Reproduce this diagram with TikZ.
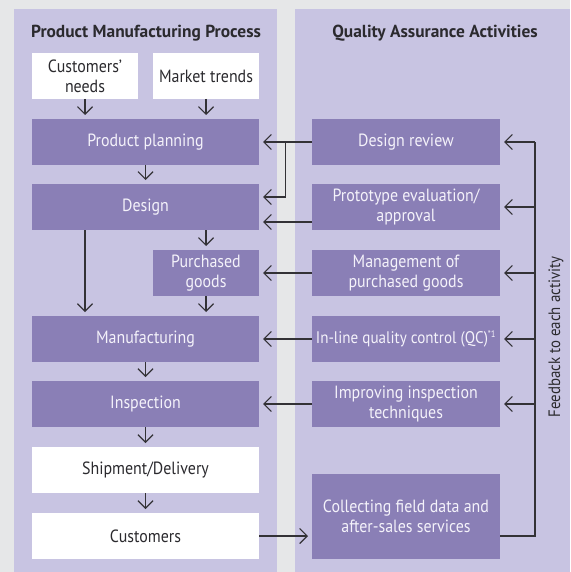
\documentclass[tikz,border=0pt]{standalone}
\usepackage{fontspec}
\setmainfont{PT Sans}[FakeStretch=0.9,BoldFeatures={FakeStretch=1}]
\usetikzlibrary{arrows.meta,calc}
\definecolor{bggrey}{HTML}{E6E7E8}
\definecolor{panel}{HTML}{C8C4E2}
\definecolor{dbox}{HTML}{8A7FB6}
\definecolor{boxtext}{HTML}{F4F2FA}
\definecolor{ink}{HTML}{2B2A2E}
\definecolor{lineink}{HTML}{333236}
\begin{document}
\begin{tikzpicture}[x=1pt,y=-1pt,
  base/.style={rectangle,inner sep=0pt,outer sep=0pt,align=center,font=\fontsize{17.7}{20}\selectfont},
  darkbox/.style={base,fill=dbox,text=boxtext},
  whitebox/.style={base,fill=white,text=ink},
  wide/.style={minimum width=227pt,minimum height=46pt},
  half/.style={minimum width=106pt,minimum height=46pt},
  qa/.style={minimum width=188pt,minimum height=46pt},
  conn/.style={draw=lineink,line width=1.2pt},
  arr/.style={conn,-{Straight Barb[length=7.5pt,width=15pt,line width=1.2pt]},shorten >=4pt},
  title/.style={font=\fontsize{17.4}{19}\selectfont\bfseries,text=ink}
]
\useasboundingbox (0,0) rectangle (570,572);
\fill[bggrey] (0,0) rectangle (570,572);
\fill[panel] (14,9) rectangle (277,572);
\fill[panel] (295,9) rectangle (570,572);

\node[title] (t1) at (146,33) {Product Manufacturing Process};
\node[title] (t2) at (435,33) {Quality Assurance Activities};

% left column
\node[whitebox,half] (cn) at (85,76) {Customers’\\needs};
\node[whitebox,half] (mt) at (206,76) {Market trends};
\node[darkbox,wide] (pp) at (145.5,142) {Product planning};
\node[darkbox,wide] (des) at (145.5,207) {Design};
\node[darkbox,half] (pg) at (206,273) {Purchased\\goods};
\node[darkbox,wide] (mf) at (145.5,339) {Manufacturing};
\node[darkbox,wide] (ins) at (145.5,404) {Inspection};
\node[whitebox,wide] (sd) at (145.5,470) {Shipment/Delivery};
\node[whitebox,wide] (cu) at (145.5,536) {Customers};

% right column
\node[darkbox,qa] (dr) at (406,142) {Design review};
\node[darkbox,qa] (pe) at (406,207) {Prototype evaluation/\\approval};
\node[darkbox,qa] (mg) at (406,273) {Management of\\purchased goods};
\node[darkbox,qa,font=\fontsize{16.8}{20}\selectfont] (qc) at (406,339) {In-line quality control (QC)\textsuperscript{\fontsize{9.5}{10}\selectfont *1}};
\node[darkbox,qa] (ii) at (406,404) {Improving inspection\\techniques};
\node[darkbox,minimum width=188pt,minimum height=85pt] (co) at (406,516.5) {Collecting field data and\\after-sales services};

\node[rotate=90,font=\fontsize{16.5}{19}\selectfont,text=ink] (fbt) at (556,337) {Feedback to each activity};

% vertical flow arrows
\draw[arr] (cn.south) -- (cn.south |- pp.north);
\draw[arr] (mt.south) -- (mt.south |- pp.north);
\draw[arr] (pp.south) -- (des.north);
\draw[arr] (pg.north |- des.south) -- (pg.north);
\draw[arr] (cn.south |- des.south) -- (cn.south |- mf.north);
\draw[arr] (pg.south) -- (pg.south |- mf.north);
\draw[arr] (mf.south) -- (ins.north);
\draw[arr] (ins.south) -- (sd.north);
\draw[arr] (sd.south) -- (cu.north);

% QA to process
\coordinate (j) at (285.5,142);
\draw[conn] (dr.west) -- (j);
\draw[arr] (j) -- (pp.east);
\draw[arr] (j) |- ($(des.east)+(0,-10)$);
\draw[arr] ($(pe.west)+(0,15)$) -- ($(des.east)+(0,15)$);
\draw[arr] (mg.west) -- (pg.east);
\draw[arr] (qc.west) -- (mf.east);
\draw[arr] (ii.west) -- (ins.east);
\draw[arr] (cu.east) -- (cu.east -| co.west);

% feedback loop
\coordinate (fb) at (535,142);
\draw[conn] (co.east |- cu.east) -- (fb |- cu.east) -- (fb);
\draw[arr] (fb) -- (dr.east);
\draw[arr] (fb |- pe.east) -- (pe.east);
\draw[arr] (fb |- mg.east) -- (mg.east);
\draw[arr] (fb |- qc.east) -- (qc.east);
\draw[arr] (fb |- ii.east) -- (ii.east);
\end{tikzpicture}
\end{document}
